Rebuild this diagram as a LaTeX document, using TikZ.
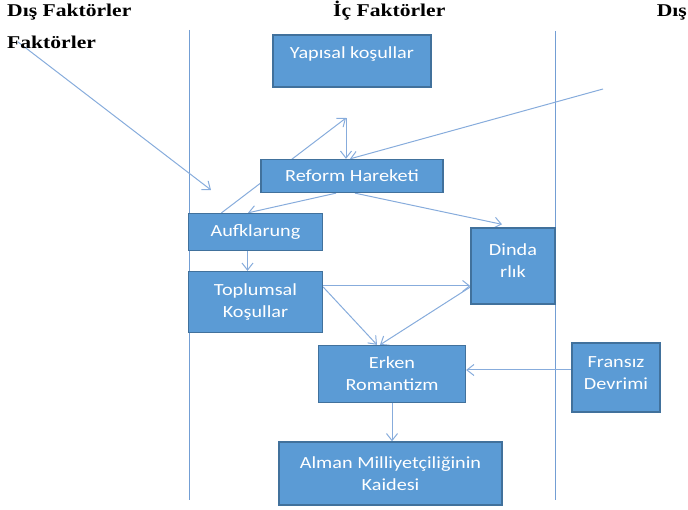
\documentclass[tikz,border=0pt]{standalone}
\usepackage{fontspec}
\setmainfont{Liberation Serif}[FakeStretch=1.2]
\newfontfamily\kutufont{Carlito}[FakeStretch=1.19]
\usepackage{xcolor}
\usetikzlibrary{arrows.meta,backgrounds,calc}
\definecolor{kutumavi}{RGB}{91,155,213}
\definecolor{kutukenar}{RGB}{65,113,156}
\definecolor{okmavi}{RGB}{135,172,220}
\definecolor{cizgimavi}{RGB}{115,158,212}

\begin{document}
\begin{tikzpicture}[x=1pt,y=-1pt,
		kutu/.style={draw=kutukenar,fill=kutumavi,line width=1.3pt,text=white,align=center,inner sep=0pt,font=\kutufont\fontsize{17}{22}\selectfont},
		ok/.style={draw=okmavi,line width=1pt,-{Straight Barb[length=7pt,width=11pt]}},
		cizgi/.style={draw=cizgimavi,line width=1pt},
		baslik/.style={font=\bfseries\fontsize{18}{22}\selectfont,inner sep=0pt}]
		\useasboundingbox (0,0) rectangle (688,510);
		\node[baslik,anchor=base west] (dis1) at (7,17) {Dış Faktörler};
		\node[baslik,anchor=base west] (ic) at (333,17) {İç Faktörler};
		\node[baslik,anchor=base east] (dis2) at (687,17) {Dış};
		\node[baslik,anchor=base west] (fak) at (7,49) {Faktörler};
		\node[kutu,minimum width=158pt,minimum height=52pt,text depth=16pt] (yapi) at (352,61) {Yapısal koşullar};
		\node[kutu,minimum width=182pt,minimum height=33pt] (reform) at (352,176) {Reform Hareketi};
		\node[kutu,minimum width=134pt,minimum height=37pt] (aufk) at (255.5,232) {Aufklarung};
		\node[kutu,minimum width=134pt,minimum height=61pt] (toplum) at (255.5,302) {Toplumsal\\Koşullar};
		\node[kutu,minimum width=84pt,minimum height=76pt,text depth=10pt] (dindar) at (513,266) {Dinda\\rlık};
		\node[kutu,minimum width=147pt,minimum height=57pt] (erken) at (392,374) {Erken\\Romantizm};
		\node[kutu,minimum width=88pt,minimum height=69pt,text depth=9pt] (fransiz) at (616,377.5) {Fransız\\Devrimi};
		\node[kutu,minimum width=223pt,minimum height=63pt] (alman) at (390.5,473.5) {Alman Milliyetçiliğinin\\Kaidesi};
		\coordinate (solgiris) at (18,42);
		\coordinate (solhedef) at (211,190);
		\coordinate (saggiris) at (603,89);
		\coordinate (tepe) at (346,118);
		\coordinate (solust) at (189.5,30);
		\coordinate (solalt) at (189.5,500);
		\coordinate (sagust) at (555.5,31);
		\coordinate (sagalt) at (555.5,500);
		\begin{scope}[on background layer]
			\draw[cizgi] (solust) -- (solalt);
			\draw[cizgi] (sagust) -- (sagalt);
			\draw[ok] (solgiris) -- (solhedef);
			\draw[ok] ([xshift=-34pt]aufk.north) -- (tepe);
			\draw[ok] (tepe) -- (tepe |- reform.north);
			\draw[ok] (saggiris) -- ([xshift=-2pt]reform.north);
			\draw[ok] ([xshift=-16pt]reform.south) -- ([xshift=-7.5pt]aufk.north);
			\draw[ok] ([xshift=3pt]reform.south) -- ([xshift=-11pt,yshift=3pt]dindar.north);
			\draw[ok] ([xshift=-8pt]aufk.south) -- ([xshift=-8pt]toplum.north);
			\draw[ok] ([yshift=16pt]toplum.east) -- ([yshift=16pt]toplum.east -| dindar.west);
			\draw[ok] ([yshift=15pt]toplum.east) -- ([xshift=-15pt]erken.north);
			\draw[ok] ([yshift=-21pt]dindar.west) -- ([xshift=-12pt]erken.north);
			\draw[ok] ([yshift=7.5pt]fransiz.west) -- ([yshift=4pt]erken.east);
			\draw[ok] (erken.south) -- (erken.south |- alman.north);
		\end{scope}
\end{tikzpicture}
\end{document}
